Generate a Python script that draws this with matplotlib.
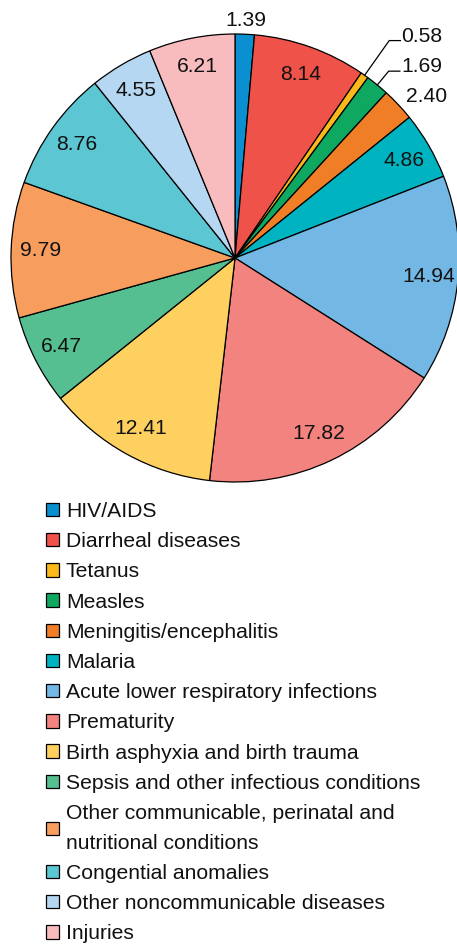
import numpy as np
import matplotlib
matplotlib.use('Agg')
import matplotlib.pyplot as plt
from matplotlib.patches import Patch

plt.rcParams['font.family'] = ['Liberation Sans', 'DejaVu Sans']

causes = ['HIV/AIDS', 'Diarrheal diseases', 'Tetanus', 'Measles',
          'Meningitis/encephalitis', 'Malaria',
          'Acute lower respiratory infections', 'Prematurity',
          'Birth asphyxia and birth trauma',
          'Sepsis and other infectious conditions',
          'Other communicable, perinatal and\nnutritional conditions',
          'Congential anomalies', 'Other noncommunicable diseases', 'Injuries']
shares = [1.39, 8.14, 0.58, 1.69, 2.40, 4.86, 14.94, 17.82, 12.41, 6.47,
          9.79, 8.76, 4.55, 6.21]
share_labels = ['1.39', '8.14', '0.58', '1.69', '2.40', '4.86', '14.94', '17.82',
                '12.41', '6.47', '9.79', '8.76', '4.55', '6.21']
colors = ['#0a8fd1', '#ef5248', '#fbb81b', '#0fa861', '#f07e26', '#00b3c0',
          '#73b8e5', '#f3837e', '#fed060', '#55bf91', '#f79e5e', '#5dc6d3',
          '#b5d7f1', '#f8bcbf']
# how each number is placed: inside, outside (top / right side), or with a leader line
label_mode = ['top', 'in', 'lead', 'lead', 'side', 'in', 'in', 'in', 'in', 'in',
              'in', 'in', 'in', 'in']

W, H = 457, 944
fig = plt.figure(figsize=(W / 100, H / 100), dpi=100)
cx, cy, r = 235, 258, 224
ax = fig.add_axes([(cx - r) / W, 1 - (cy + r) / H, 2 * r / W, 2 * r / H])

wedges, _ = ax.pie(shares, colors=colors, startangle=90, counterclock=False,
                   radius=1.0, wedgeprops=dict(edgecolor='black', linewidth=0.9))
ax.set_xlim(-1, 1)
ax.set_ylim(-1, 1)
ax.axis('off')
for w in wedges:
    w.set_clip_on(False)

fs = 15.2
for w, lab, mode in zip(wedges, share_labels, label_mode):
    th = np.deg2rad((w.theta1 + w.theta2) / 2)
    c, s = np.cos(th), np.sin(th)
    if mode == 'in':
        ax.text(0.87 * c, 0.87 * s, lab, ha='center', va='center',
                fontsize=fs, color='#111111')
    elif mode == 'top':
        ax.text(1.07 * c, 1.06 * s, lab, ha='center', va='center',
                fontsize=fs, color='#111111', clip_on=False)
    elif mode == 'side':
        ax.text(1.05 * c, 1.05 * s, lab, ha='left', va='center',
                fontsize=fs, color='#111111', clip_on=False)
    else:
        elbow = 1.19 if lab == '0.58' else 1.08
        ex, ey = elbow * c, elbow * s
        ax.plot([c, ex, ex + 0.05], [s, ey, ey], color='black', lw=0.9,
                clip_on=False)
        ax.text(ex + 0.055, ey + 0.02, lab, ha='left', va='center',
                fontsize=fs, color='#111111', clip_on=False)

handles = [Patch(facecolor=col, edgecolor='black', linewidth=0.9) for col in colors]
leg = fig.legend(handles, causes, loc='upper left',
                 bbox_to_anchor=(46 / W, 1 - 502 / H), frameon=False,
                 fontsize=fs, handlelength=0.6, handleheight=0.6,
                 handletextpad=0.34, labelspacing=0.53, borderaxespad=0,
                 borderpad=0)
for t in leg.get_texts():
    t.set_linespacing(1.72)
    t.set_color('#111111')

fig.savefig('out.png', dpi=100)
